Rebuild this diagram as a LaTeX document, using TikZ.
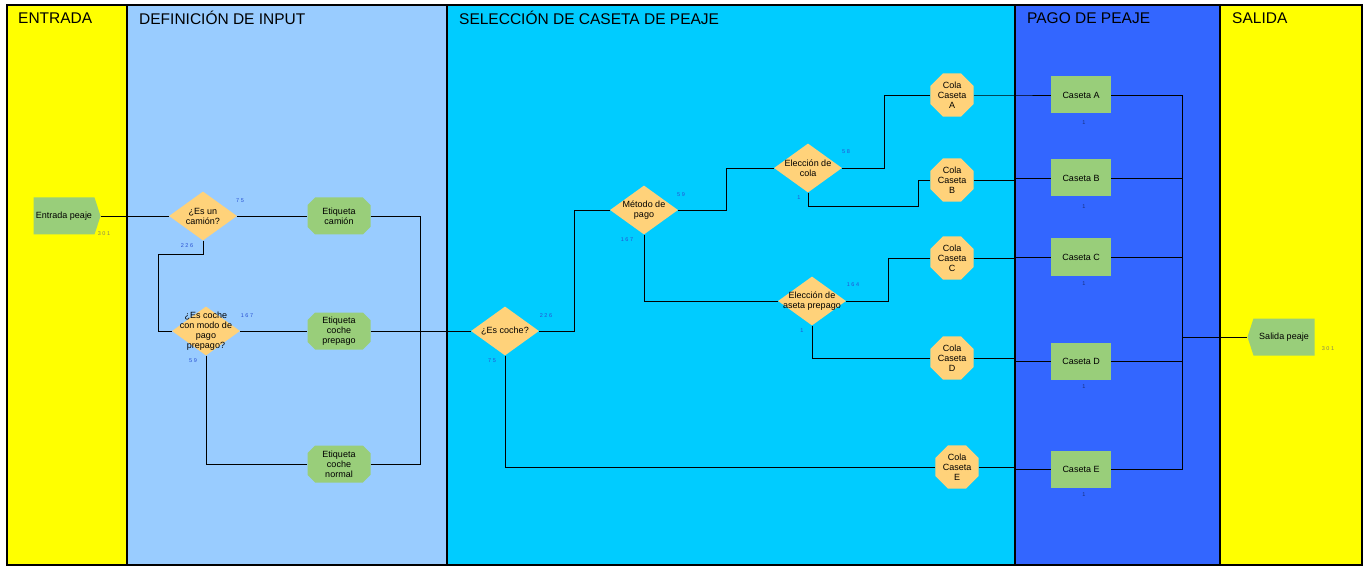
\documentclass[tikz,border=0pt]{standalone}
\usepackage{fontspec}
\setmainfont{Liberation Sans}
\usetikzlibrary{shapes.geometric, shapes.misc, shapes.symbols}

\definecolor{laneyellow}{RGB}{255,255,0}
\definecolor{laneinput}{RGB}{153,204,255}
\definecolor{lanesel}{RGB}{0,204,255}
\definecolor{lanepago}{RGB}{51,102,255}
\definecolor{stepgreen}{RGB}{153,206,122}
\definecolor{decgold}{RGB}{255,210,122}
\definecolor{numblue}{RGB}{40,80,210}
\definecolor{numgray}{RGB}{130,130,90}

\begin{document}
\begin{tikzpicture}[
  x=1pt, y=-1pt,
  lane/.style = {draw, line width=1.2pt},
  lanetitle/.style = {anchor=west, inner sep=0pt, font=\fontsize{15.5}{18}\selectfont},
  txt/.style = {align=center, inner sep=0pt, font=\fontsize{9}{10}\selectfont},
  decision/.style = {diamond, fill=decgold, minimum width=68pt, minimum height=49pt, inner sep=0pt},
  queue/.style = {regular polygon, regular polygon sides=8, fill=decgold, minimum size=47pt, inner sep=0pt},
  tag/.style = {chamfered rectangle, chamfered rectangle xsep=4pt, fill=stepgreen, minimum width=63pt, minimum height=37pt, inner sep=0pt, txt},
  booth/.style = {rectangle, fill=stepgreen, minimum width=60pt, minimum height=37pt, inner sep=0pt, txt},
  io/.style = {signal, fill=stepgreen, minimum width=67pt, minimum height=37pt, signal pointer angle=144, inner sep=1pt, txt},
  cnt/.style = {inner sep=0pt, text=numblue, font=\fontsize{5.5}{6}\selectfont},
  link/.style = {draw, line width=0.9pt}
  ]

  \useasboundingbox (0,0) rectangle (1371,572);

    % Lanes
  \draw[lane, fill=laneyellow] (7,5) rectangle (127,565);
  \draw[lane, fill=laneinput] (127,5) rectangle (447,565);
  \draw[lane, fill=lanesel] (447,5) rectangle (1015,565);
  \draw[lane, fill=lanepago] (1015,5) rectangle (1220,565);
  \draw[lane, fill=laneyellow] (1220,5) rectangle (1362,565);

  \node[lanetitle] (tentrada) at (18,18) {ENTRADA};
  \node[lanetitle] (tinput) at (139,18) {DEFINICIÓN DE INPUT};
  \node[lanetitle] (tsel) at (459,18) {SELECCIÓN DE CASETA DE PEAJE};
  \node[lanetitle] (tpago) at (1027,18) {PAGO DE PEAJE};
  \node[lanetitle] (tsalida) at (1232,18) {SALIDA};

    % Entrada y definicion de input
  \node[io, signal to=east] (entrada) at (64,216) {Entrada peaje};
  \node[decision, label={[txt]center:¿Es un\\camión?}] (camion) at (203,216) {};
  \node[decision, label={[txt]center:¿Es coche\\con modo de\\pago\\prepago?}] (prepago) at (206,331) {};
  \node[tag] (etcamion) at (339,216) {Etiqueta\\camión};
  \node[tag] (etprepago) at (339,331) {Etiqueta\\coche\\prepago};
  \node[tag] (etnormal) at (339,464) {Etiqueta\\coche\\normal};

    % Seleccion de caseta
  \node[decision, label={[txt]center:¿Es coche?}] (escoche) at (505,331) {};
  \node[decision, label={[txt]center:Método de\\pago}] (metodo) at (644,210) {};
  \node[decision, label={[txt]center:Elección de\\cola}] (eleccola) at (808,168) {};
  \node[decision, label={[txt]center:Elección de\\aseta prepago}] (elecprep) at (812,301) {};

  \node[queue, label={[txt]center:Cola\\Caseta\\A}] (colaA) at (952,95) {};
  \node[queue, label={[txt]center:Cola\\Caseta\\B}] (colaB) at (952,180) {};
  \node[queue, label={[txt]center:Cola\\Caseta\\C}] (colaC) at (952,258) {};
  \node[queue, label={[txt]center:Cola\\Caseta\\D}] (colaD) at (952,358) {};
  \node[queue, label={[txt]center:Cola\\Caseta\\E}] (colaE) at (957,467) {};

    % Pago de peaje y salida
  \node[booth] (casetaA) at (1081,95) {Caseta A};
  \node[booth] (casetaB) at (1081,178) {Caseta B};
  \node[booth] (casetaC) at (1081,257) {Caseta C};
  \node[booth] (casetaD) at (1081,361) {Caseta D};
  \node[booth] (casetaE) at (1081,469) {Caseta E};
  \node[io, signal to=west] (salida) at (1284,337) {Salida peaje};

    % Counters
  \node[cnt, text=numgray] (nentrada) at (104,234) {3 0 1};
  \node[cnt] (ncamion1) at (240,201) {7 5};
  \node[cnt] (ncamion2) at (187,246) {2 2 6};
  \node[cnt] (nprepago1) at (247,316) {1 6 7};
  \node[cnt] (nprepago2) at (193,361) {5 9};
  \node[cnt] (nescoche1) at (546,316) {2 2 6};
  \node[cnt] (nescoche2) at (492,361) {7 5};
  \node[cnt] (nmetodo1) at (681,195) {5 9};
  \node[cnt] (nmetodo2) at (627,240) {1 6 7};
  \node[cnt] (neleccola1) at (846,152) {5 8};
  \node[cnt] (neleccola2) at (799,198) {1};
  \node[cnt] (nelecprep1) at (853,285) {1 6 4};
  \node[cnt] (nelecprep2) at (802,331) {1};
  \foreach \c/\y in {A/123, B/207, C/284, D/387, E/495}
    \node[cnt, text=numblue!60!black] (ncaseta\c) at (1084,\y) {1};
  \node[cnt, text=numgray] (nsalida) at (1328,349) {3 0 1};

    % Connectors
  \draw[link] (entrada.east) -- (camion.west);
  \draw[link] (camion.east) -- (etcamion.west);
  \draw[link] (camion.south) -- ++(0,14) -- ++(-45,0) |- (prepago.west);
  \draw[link] (prepago.east) -- (etprepago.west);
  \draw[link] (prepago.south) |- (etnormal.west);
  \draw[link] (etcamion.east) -- ++(50,0) |- (escoche.west);
  \draw[link] (etnormal.east) -- ++(50,0) |- (escoche.west);
  \draw[link] (etprepago.east) -- (escoche.west);

  \draw[link] (escoche.east) -- ++(35,0) |- (metodo.west);
  \draw[link] (escoche.south) |- (colaE.west);
  \draw[link] (metodo.east) -- ++(48,0) |- (eleccola.west);
  \draw[link] (metodo.south) |- (elecprep.west);
  \draw[link] (eleccola.east) -- ++(42,0) |- (colaA.west);
  \draw[link] (eleccola.south) -- ++(0,14) -- ++(110,0) |- (colaB.west);
  \draw[link] (elecprep.east) -- ++(42,0) |- (colaC.west);
  \draw[link] (elecprep.south) |- (colaD.west);

  \foreach \c in {A,...,E} {
    \draw[link] (cola\c.east) -| ([xshift=-36pt]caseta\c.west) -- (caseta\c.west);
    \draw[link] (caseta\c.east) -- ++(71,0) |- (salida.west);
  }

\end{tikzpicture}
\end{document}
